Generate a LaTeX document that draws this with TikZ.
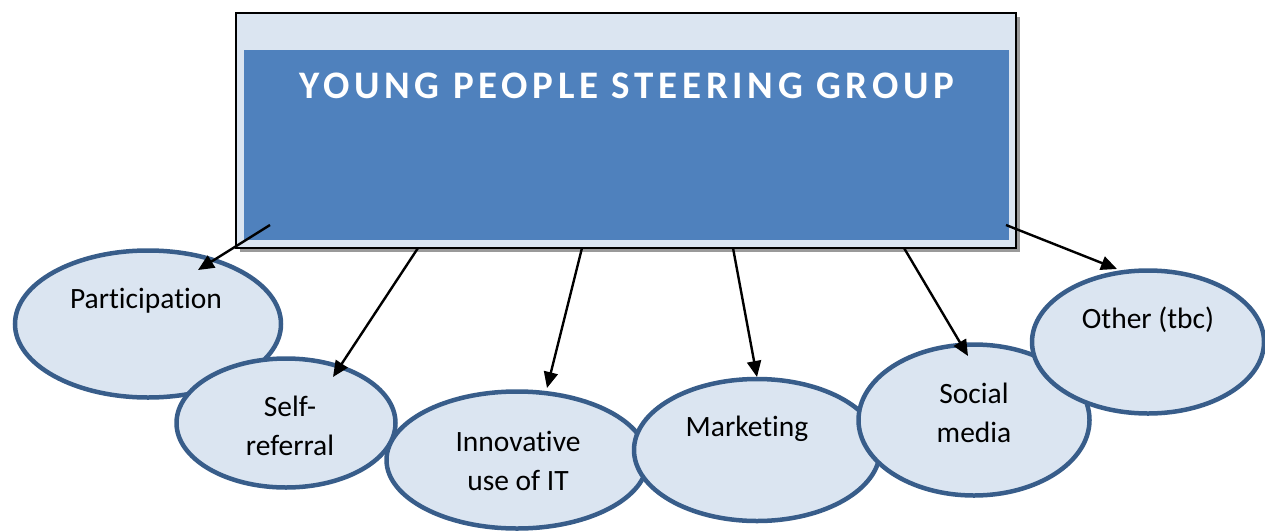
\documentclass[tikz,border=0pt]{standalone}
\usepackage{fontspec}
\setmainfont[Ligatures={NoCommon,NoContextual}]{Carlito}
\usetikzlibrary{shapes.geometric,arrows.meta}
\definecolor{paleblue}{HTML}{DBE5F1}
\definecolor{midblue}{HTML}{4F81BD}
\definecolor{edgeblue}{HTML}{385D8A}
\definecolor{shadowgray}{HTML}{9A9A9A}
\tikzset{
  bubble/.style={ellipse, draw=edgeblue, line width=4.5pt, fill=paleblue, inner sep=0pt},
  bubbletext/.style={font=\fontsize{29.5}{39}\selectfont, align=center, anchor=base, inner sep=0pt},
  link/.style={line width=2.4pt, -{Triangle[length=16pt,width=14pt]}},
}
\begin{document}
\begin{tikzpicture}[x=1pt,y=-1pt]
\useasboundingbox (0,0) rectangle (1265,530);

% group box with its drop shadow and inner panel
\node[minimum width=780, minimum height=235, inner sep=0pt] (frame) at (626,130.5) {};
\fill[shadowgray] ([shift={(4,4)}]frame.north west) rectangle ([shift={(4,4)}]frame.south east);
\node[draw=black, line width=1.3pt, fill=paleblue, minimum width=780, minimum height=235, inner sep=0pt] (box) at (626,130.5) {};
\node[fill=midblue, minimum width=765, minimum height=190, inner sep=0pt] (panel) at (626.5,145) {};
\node[font=\bfseries\fontsize{39}{42}\selectfont\addfontfeature{LetterSpace=12}, text=white, anchor=base, inner sep=0pt] (title) at (627,98) {YOUNG PEOPLE STEERING GROUP};

% workstream bubbles, each overlapping the previous one
\node[bubble, minimum width=266, minimum height=147] (part) at (148,324) {};
\node[bubble, minimum width=219, minimum height=129] (self) at (286,423) {};
\node[bubble, minimum width=261, minimum height=137] (innov) at (517,460) {};
\node[bubble, minimum width=246, minimum height=142] (mkt) at (757,450) {};
\node[bubble, minimum width=231, minimum height=151] (social) at (974,420) {};
\node[bubble, minimum width=232, minimum height=143] (other) at (1148,342) {};

% bubble labels (base is the baseline of the last line)
\node[bubbletext] (partT) at (146,308) {Participation};
\node[bubbletext] (selfT) at (290,455) {Self-\\referral};
\node[bubbletext] (innovT) at (518,490) {Innovative\\use of IT};
\node[bubbletext] (mktT) at (747,436) {Marketing};
\node[bubbletext] (socialT) at (974,442) {Social\\media};
\node[bubbletext] (otherT) at (1148,328) {Other (tbc)};

% arrow origins on the group box
\coordinate (s1) at (270,225);
\coordinate (s2) at (418,248);
\coordinate (s3) at (582,248);
\coordinate (s4) at (733,248);
\coordinate (s5) at (904,248);
\coordinate (s6) at (1006,225);

\draw[link] (s1) -- ([shift={(50,-54)}]part.center);
\draw[link] (s2) -- ([shift={(47,-46)}]self.center);
\draw[link] (s3) -- ([shift={(30,-72)}]innov.center);
\draw[link] (s4) -- ([shift={(0,-73)}]mkt.center);
\draw[link] (s5) -- ([shift={(-6,-64)}]social.center);
\draw[link] (s6) -- ([shift={(-31,-73)}]other.center);
\end{tikzpicture}
\end{document}
